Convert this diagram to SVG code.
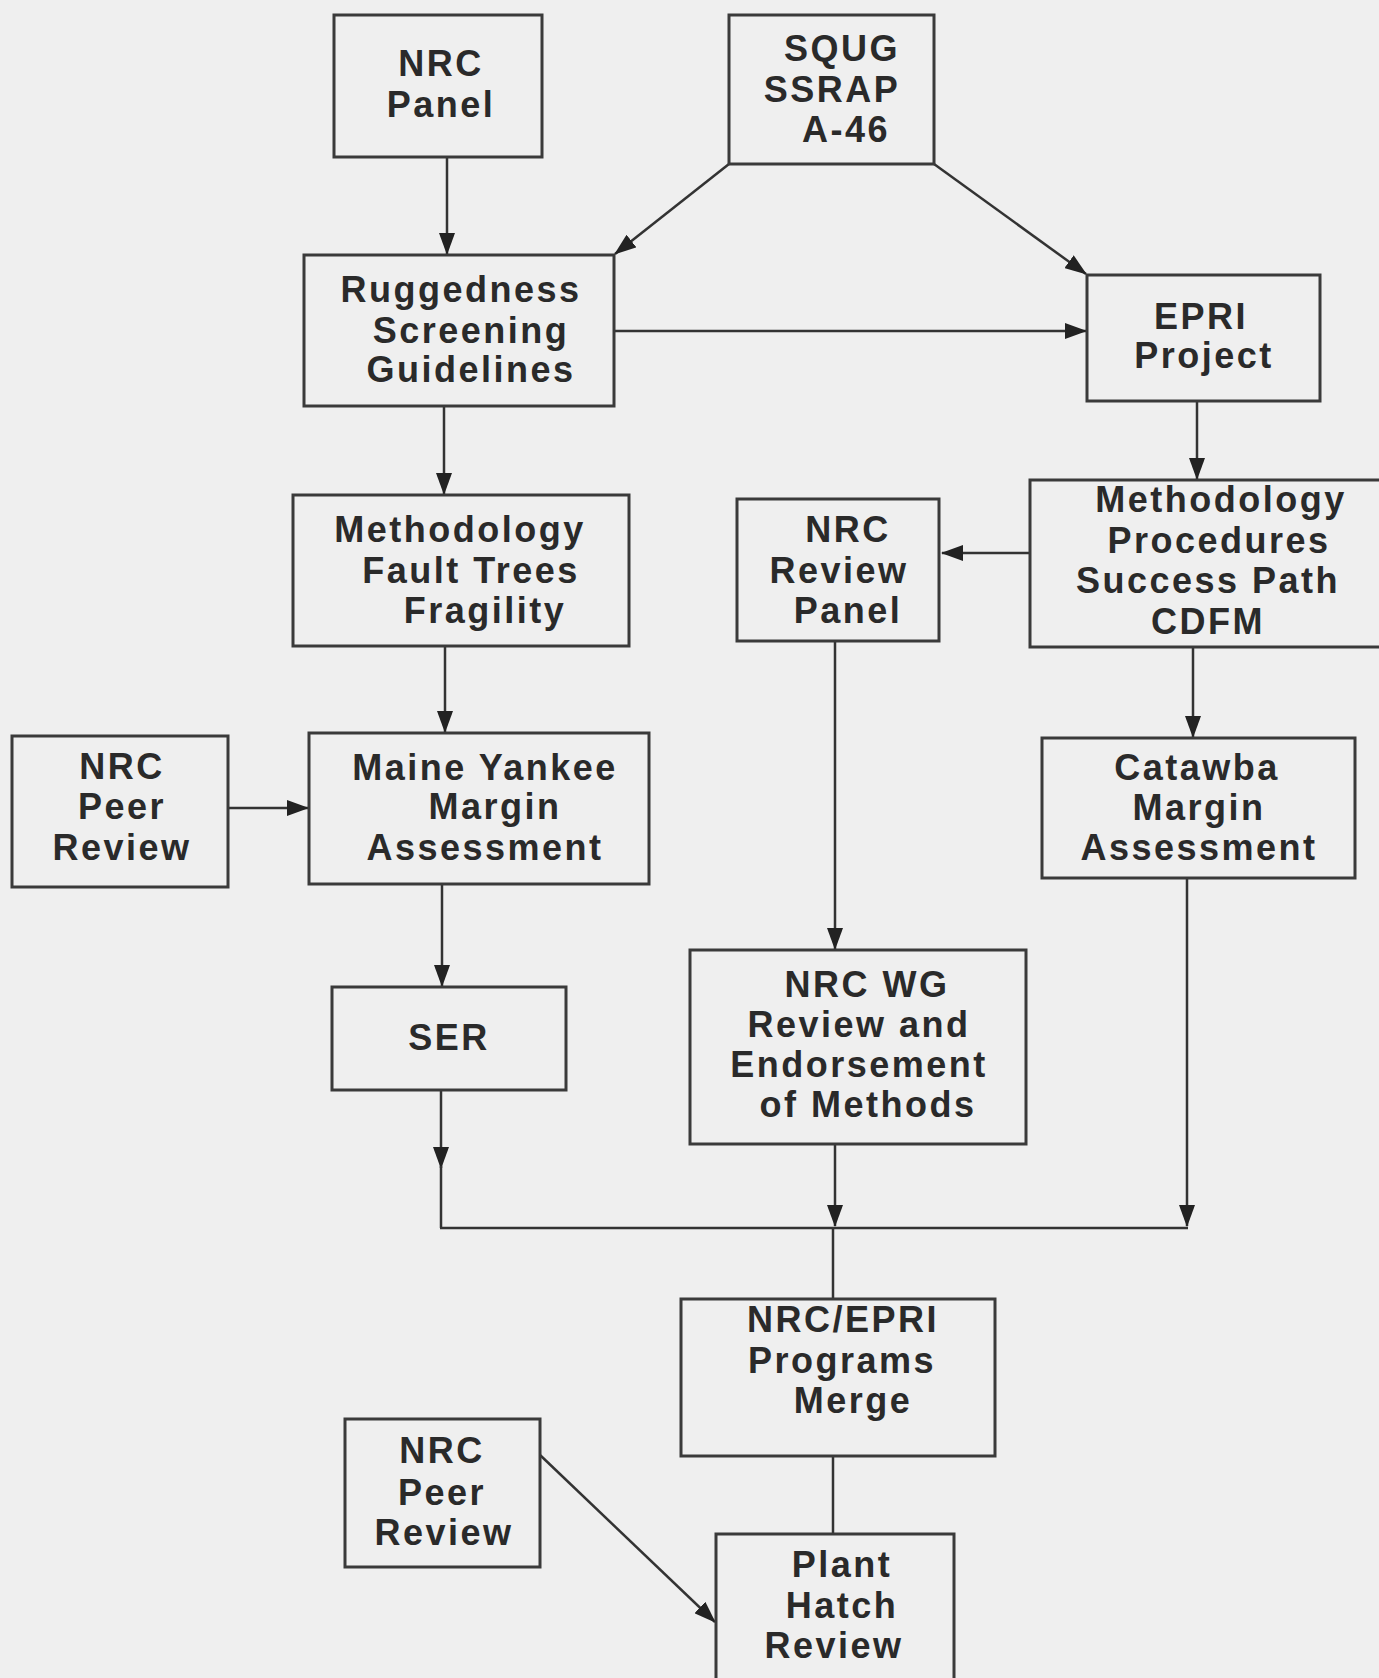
<svg xmlns="http://www.w3.org/2000/svg" width="1379" height="1678" viewBox="0 0 1379 1678">
<style>
.box{fill:none;stroke:#3a3a3a;stroke-width:3}
.t{font-family:"Liberation Sans",Arial,sans-serif;font-weight:bold;font-size:36px;letter-spacing:2.5px;fill:#2a2a2a;text-anchor:middle}
.c{fill:none;stroke:#333;stroke-width:2.5}
</style>
<defs>
<marker id="ah" markerUnits="userSpaceOnUse" markerWidth="22" markerHeight="16" refX="21" refY="8" orient="auto">
<path d="M0,0 L22,8 L0,16 Z" fill="#222"/>
</marker>
</defs>
<rect width="1379" height="1678" fill="#efefef"/>
<g id="connectors">
<line class="c" x1="447" y1="157" x2="447" y2="254" marker-end="url(#ah)"/>
<line class="c" x1="729" y1="164" x2="615" y2="254" marker-end="url(#ah)"/>
<line class="c" x1="934" y1="164" x2="1086" y2="274" marker-end="url(#ah)"/>
<line class="c" x1="614" y1="331" x2="1086" y2="331" marker-end="url(#ah)"/>
<line class="c" x1="1197" y1="401" x2="1197" y2="479" marker-end="url(#ah)"/>
<line class="c" x1="444" y1="406" x2="444" y2="494" marker-end="url(#ah)"/>
<line class="c" x1="1030" y1="553" x2="942" y2="553" marker-end="url(#ah)"/>
<line class="c" x1="445" y1="646" x2="445" y2="732" marker-end="url(#ah)"/>
<line class="c" x1="228" y1="808" x2="308" y2="808" marker-end="url(#ah)"/>
<line class="c" x1="1193" y1="648" x2="1193" y2="737" marker-end="url(#ah)"/>
<line class="c" x1="835" y1="641" x2="835" y2="949" marker-end="url(#ah)"/>
<line class="c" x1="442" y1="884" x2="442" y2="986" marker-end="url(#ah)"/>
<line class="c" x1="441" y1="1090" x2="441" y2="1168" marker-end="url(#ah)"/>
<line class="c" x1="441" y1="1166" x2="441" y2="1228"/>
<line class="c" x1="835" y1="1144" x2="835" y2="1226" marker-end="url(#ah)"/>
<line class="c" x1="1187" y1="878" x2="1187" y2="1226" marker-end="url(#ah)"/>
<line class="c" x1="440" y1="1228" x2="1188" y2="1228"/>
<line class="c" x1="833" y1="1228" x2="833" y2="1299"/>
<line class="c" x1="833" y1="1456" x2="833" y2="1534"/>
<line class="c" x1="540" y1="1455" x2="715" y2="1622" marker-end="url(#ah)"/>
</g>
<g id="nrc-panel">
<rect class="box" x="334" y="15" width="208" height="142"/>
<text class="t" x="441" y="76">NRC</text>
<text class="t" x="441" y="117">Panel</text>
</g>
<g id="squg">
<rect class="box" x="729" y="15" width="205" height="149"/>
<text class="t" x="842" y="61">SQUG</text>
<text class="t" x="832" y="102">SSRAP</text>
<text class="t" x="846" y="142">A-46</text>
</g>
<g id="ruggedness">
<rect class="box" x="304" y="255" width="310" height="151"/>
<text class="t" x="461" y="302">Ruggedness</text>
<text class="t" x="471" y="343">Screening</text>
<text class="t" x="471" y="382">Guidelines</text>
</g>
<g id="epri-project">
<rect class="box" x="1087" y="275" width="233" height="126"/>
<text class="t" x="1201" y="329">EPRI</text>
<text class="t" x="1204" y="368">Project</text>
</g>
<g id="methodology-procedures">
<rect class="box" x="1030" y="480" width="360" height="167"/>
<text class="t" x="1221" y="512">Methodology</text>
<text class="t" x="1219" y="553">Procedures</text>
<text class="t" x="1208" y="593">Success  Path</text>
<text class="t" x="1208" y="634">CDFM</text>
</g>
<g id="methodology-fault-trees">
<rect class="box" x="293" y="495" width="336" height="151"/>
<text class="t" x="460" y="542">Methodology</text>
<text class="t" x="471" y="583">Fault  Trees</text>
<text class="t" x="485" y="623">Fragility</text>
</g>
<g id="nrc-review-panel">
<rect class="box" x="737" y="499" width="202" height="142"/>
<text class="t" x="848" y="542">NRC</text>
<text class="t" x="839" y="583">Review</text>
<text class="t" x="848" y="623">Panel</text>
</g>
<g id="nrc-peer-review-1">
<rect class="box" x="12" y="736" width="216" height="151"/>
<text class="t" x="122" y="779">NRC</text>
<text class="t" x="122" y="819">Peer</text>
<text class="t" x="122" y="860">Review</text>
</g>
<g id="maine-yankee">
<rect class="box" x="309" y="733" width="340" height="151"/>
<text class="t" x="485" y="780">Maine  Yankee</text>
<text class="t" x="495" y="819">Margin</text>
<text class="t" x="485" y="860">Assessment</text>
</g>
<g id="catawba">
<rect class="box" x="1042" y="738" width="313" height="140"/>
<text class="t" x="1197" y="780">Catawba</text>
<text class="t" x="1199" y="820">Margin</text>
<text class="t" x="1199" y="860">Assessment</text>
</g>
<g id="ser">
<rect class="box" x="332" y="987" width="234" height="103"/>
<text class="t" x="449" y="1050">SER</text>
</g>
<g id="nrc-wg">
<rect class="box" x="690" y="950" width="336" height="194"/>
<text class="t" x="867" y="997">NRC WG</text>
<text class="t" x="859" y="1037">Review  and</text>
<text class="t" x="859" y="1077">Endorsement</text>
<text class="t" x="868" y="1117">of  Methods</text>
</g>
<g id="programs-merge">
<rect class="box" x="681" y="1299" width="314" height="157"/>
<text class="t" x="843" y="1332">NRC/EPRI</text>
<text class="t" x="842" y="1373">Programs</text>
<text class="t" x="853" y="1413">Merge</text>
</g>
<g id="nrc-peer-review-2">
<rect class="box" x="345" y="1419" width="195" height="148"/>
<text class="t" x="442" y="1463">NRC</text>
<text class="t" x="442" y="1505">Peer</text>
<text class="t" x="444" y="1545">Review</text>
</g>
<g id="plant-hatch">
<rect class="box" x="716" y="1534" width="238" height="150"/>
<text class="t" x="842" y="1577">Plant</text>
<text class="t" x="842" y="1618">Hatch</text>
<text class="t" x="834" y="1658">Review</text>
</g>
</svg>
